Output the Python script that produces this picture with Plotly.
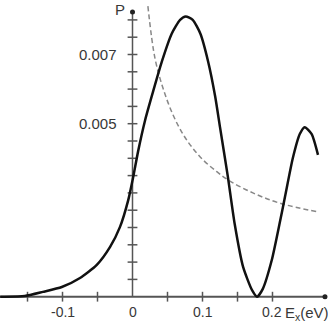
import plotly.graph_objects as go

# Solid curve P(E_x)
solid_x = [-0.189, -0.185, -0.154, -0.128, -0.101, -0.075, -0.051, -0.032, -0.018, -0.006, 0.001, 0.008,
           0.018, 0.029, 0.042, 0.056, 0.068, 0.076, 0.086, 0.097, 0.108, 0.118, 0.125, 0.136,
           0.146, 0.158, 0.171, 0.178, 0.186, 0.199, 0.210, 0.218, 0.229, 0.239, 0.246, 0.256, 0.265]
solid_p = [0.0, 0.0, 0.00002, 0.00014, 0.00028, 0.00054, 0.00092, 0.00144, 0.00201, 0.0028, 0.00346, 0.0042,
           0.0051, 0.0059, 0.0068, 0.0076, 0.0080, 0.0081, 0.0080, 0.0076, 0.0068, 0.0058, 0.0049, 0.0035,
           0.0021, 0.00086, 0.00018, 0.0, 0.00022, 0.00106, 0.0021, 0.0029, 0.0040, 0.0047, 0.0049, 0.0047, 0.0041]

# Dashed curve
dash_x = [0.022, 0.032, 0.044, 0.058, 0.072, 0.085, 0.101, 0.120, 0.136, 0.172, 0.211, 0.265]
dash_p = [0.0084, 0.0069, 0.0060, 0.00525, 0.0047, 0.00432, 0.00395, 0.00362, 0.00338, 0.0030, 0.0027, 0.00245]

# Axes and ticks
x_ticks = [-0.15, -0.1, -0.05, 0.05, 0.1, 0.15, 0.2]
x_label_vals = [-0.1, 0.0, 0.1, 0.2]
x_label_text = ["-0.1", "0", "0.1", "0.2"]
y_ticks = [0.0005 * k for k in range(1, 17)]
y_label_vals = [0.005, 0.007]
y_label_text = ["0.005", "0.007"]

X_MIN, X_MAX = -0.1893, 0.2793
Y_MIN, Y_MAX = -0.000789, 0.008575
X_AXIS_END = 0.275
Y_AXIS_END = 0.00823

AXIS_COLOR = "#555555"
TEXT_COLOR = "#383838"
FONT = "Liberation Sans Narrow, Liberation Sans, Arial, sans-serif"

fig = go.Figure()

# axis lines
fig.add_trace(go.Scatter(x=[X_MIN, X_AXIS_END], y=[0, 0], mode="lines",
                         line=dict(color=AXIS_COLOR, width=2), hoverinfo="skip"))
fig.add_trace(go.Scatter(x=[0, 0], y=[0, Y_AXIS_END], mode="lines",
                         line=dict(color=AXIS_COLOR, width=1.5), hoverinfo="skip"))
# axis end dots
fig.add_trace(go.Scatter(x=[X_AXIS_END, 0], y=[0, Y_AXIS_END], mode="markers",
                         marker=dict(color="#222222", size=5), hoverinfo="skip"))
# ticks
fig.add_trace(go.Scatter(x=x_ticks, y=[0] * len(x_ticks), mode="markers",
                         marker=dict(symbol="line-ns", size=7, line=dict(color=AXIS_COLOR, width=1.5)),
                         hoverinfo="skip"))
fig.add_trace(go.Scatter(x=[0] * len(y_ticks), y=y_ticks, mode="markers",
                         marker=dict(symbol="line-ew", size=7, line=dict(color=AXIS_COLOR, width=1.5)),
                         hoverinfo="skip"))

# curves
fig.add_trace(go.Scatter(x=dash_x, y=dash_p, mode="lines",
                         line=dict(color="#888888", width=1.5, dash="5px,3px", shape="spline", smoothing=1.0),
                         hoverinfo="skip"))
fig.add_trace(go.Scatter(x=solid_x, y=solid_p, mode="lines",
                         line=dict(color="#111111", width=2.5, shape="spline", smoothing=0.6),
                         hoverinfo="skip"))

annotations = []
for v, t in zip(x_label_vals, x_label_text):
    annotations.append(dict(x=v, y=0, xref="x", yref="y", text=t, showarrow=False,
                            yanchor="top", yshift=-5, font=dict(size=14, color=TEXT_COLOR, family=FONT)))
for v, t in zip(y_label_vals, y_label_text):
    annotations.append(dict(x=0, y=v, xref="x", yref="y", text=t, showarrow=False,
                            xanchor="right", xshift=-14, font=dict(size=15, color=TEXT_COLOR, family=FONT)))
annotations.append(dict(x=0, y=Y_AXIS_END, xref="x", yref="y", text="P", showarrow=False,
                        xanchor="right", xshift=-6, yshift=2, font=dict(size=15, color=TEXT_COLOR, family=FONT)))
annotations.append(dict(x=0.2, y=0, xref="x", yref="y", text="E<sub>x</sub>(eV)", showarrow=False,
                        xanchor="left", yanchor="top", xshift=11, yshift=-5,
                        font=dict(size=15, color=TEXT_COLOR, family=FONT)))

fig.update_layout(
    width=328, height=324,
    margin=dict(l=0, r=0, t=0, b=0),
    paper_bgcolor="white", plot_bgcolor="white",
    showlegend=False,
    xaxis=dict(range=[X_MIN, X_MAX], visible=False, fixedrange=True),
    yaxis=dict(range=[Y_MIN, Y_MAX], visible=False, fixedrange=True),
    annotations=annotations,
)

fig.write_html("out.html")
